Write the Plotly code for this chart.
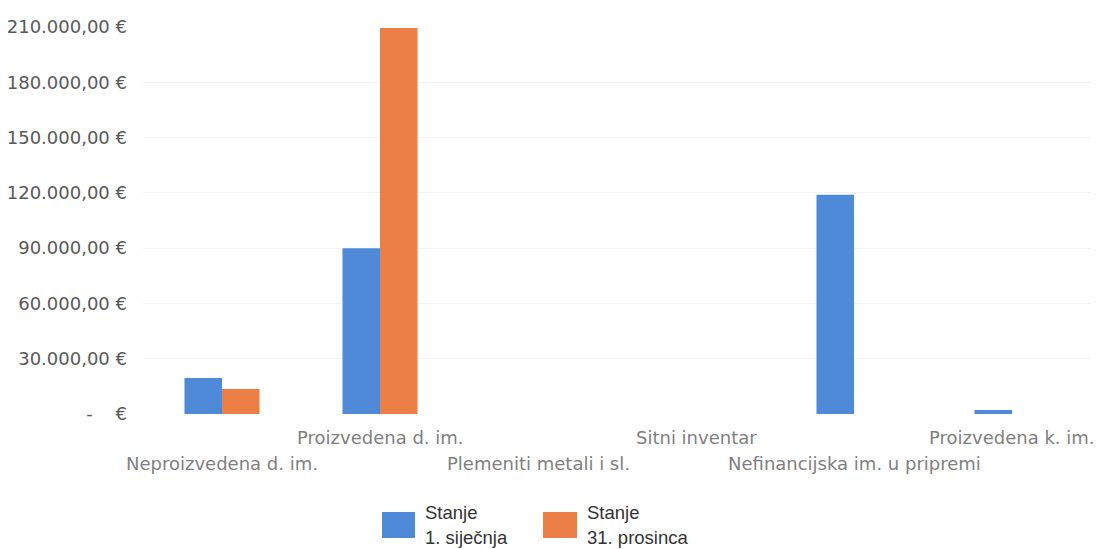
import plotly.graph_objects as go

categories = ["Neproizvedena d. im.", "Proizvedena d. im.", "Plemeniti metali i sl.",
              "Sitni inventar", "Nefinancijska im. u pripremi", "Proizvedena k. im."]
series_names = ["Stanje<br>1. siječnja", "Stanje<br>31. prosinca"]
stanje_1_sijecnja = [19500, 90000, 0, 0, 119000, 2200]
stanje_31_prosinca = [13500, 209500, 0, 0, 0, 0]
tick_values = [0, 30000, 60000, 90000, 120000, 150000, 180000, 210000]
tick_labels = ["-\u00a0\u00a0\u00a0\u00a0€", "30.000,00 €", "60.000,00 €", "90.000,00 €",
               "120.000,00 €", "150.000,00 €", "180.000,00 €", "210.000,00 €"]

colors = ["#4f8ad8", "#ec7f45"]

fig = go.Figure()
for name, vals, c in zip(series_names, [stanje_1_sijecnja, stanje_31_prosinca], colors):
    fig.add_trace(go.Bar(x=list(range(len(categories))), y=vals, name=name,
                         marker=dict(color=c, line=dict(width=0)), showlegend=False))

OFF = 8  # page body margin
W, H = 1101 - OFF, 549 - OFF
L, T = 143 - OFF, 27 - OFF
R = W - (1091 - OFF)
B = H - (414 - OFF)
pw, ph = W - L - R, H - T - B

fig.update_layout(
    width=W, height=H,
    margin=dict(l=L, r=R, t=T, b=B, autoexpand=False),
    paper_bgcolor="white", plot_bgcolor="white",
    barmode="group", bargap=0.525, bargroupgap=0,
    font=dict(family="DejaVu Sans", size=14, color="#595959"),
    xaxis=dict(range=[-0.5, len(categories) - 0.5], showticklabels=False,
               showgrid=False, zeroline=False, showline=False, fixedrange=True,
               automargin=False),
    yaxis=dict(range=[0, 210000], tickvals=tick_values, ticktext=tick_labels,
               showgrid=True, gridcolor="#f3f3f3", gridwidth=1, zeroline=False,
               showline=False, ticklabelstandoff=15, automargin=False,
               tickfont=dict(family="DejaVu Sans", size=18, color="#595959")),
)

# staggered category labels
for i, cat in enumerate(categories):
    fig.add_annotation(x=i, y=0, xref="x", yref="paper", text=cat, showarrow=False,
                       xanchor="center", yanchor="middle",
                       yshift=-23 if i % 2 == 1 else -49,
                       font=dict(family="DejaVu Sans", size=18, color="#7f7f7f"))

# legend drawn manually (page pixel coords converted to paper coords)
def px_x(x):
    return (x - OFF - L) / pw

def px_y(y):
    return (H - B - (y - OFF)) / ph

legend_items = [(382, 415, 423), (543, 577, 585)]
for (x0, x1, tx), name, c in zip(legend_items, series_names, colors):
    fig.add_shape(type="rect", xref="paper", yref="paper",
                  x0=px_x(x0), x1=px_x(x1), y0=px_y(538), y1=px_y(512),
                  fillcolor=c, line=dict(width=0))
    for line_text, ly in zip(name.split("<br>"), [512, 537]):
        fig.add_annotation(x=px_x(tx), y=px_y(ly), xref="paper", yref="paper",
                           text=line_text, showarrow=False, xanchor="left", yanchor="middle",
                           align="left",
                           font=dict(family="Liberation Sans", size=18.5, color="#333333"))

fig.write_html("out.html")
